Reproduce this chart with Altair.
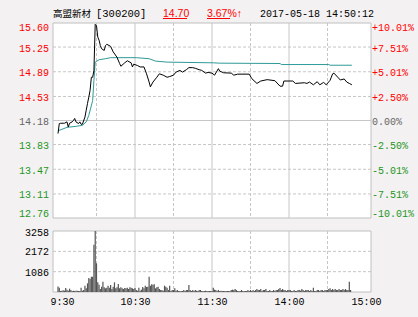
import altair as alt
import pandas as pd

# ---------------- data ----------------
price_min = [0, 1, 2, 4, 5, 7, 8, 9, 11, 12, 13, 14, 16, 17, 18, 19, 21, 22, 23, 24, 25, 26, 27, 28, 29,
             30, 31, 32, 33, 34, 36, 37, 38, 41, 43, 46, 48, 49, 52, 54, 57, 58, 59, 62, 64, 67, 69, 71,
             72, 74, 77, 79, 82, 85, 87, 90, 92, 95, 97, 100, 102, 105, 107, 110, 112, 115, 117, 120, 122,
             125, 126, 129, 135, 137, 140, 149, 151, 155, 158, 163, 169, 173, 175, 176, 183, 185, 192, 194,
             196, 199, 202, 204, 207, 209, 212, 214, 215, 218, 220, 223, 225, 227, 229]
price_val = [13.99, 14.135, 14.14, 14.14, 14.14, 14.16, 14.085, 14.14, 14.16, 14.18, 14.21, 14.16, 14.135,
             14.16, 14.125, 14.125, 14.23, 14.33, 14.43, 14.52, 14.62, 14.81, 14.81, 14.91, 15.58,
             15.56, 15.395, 15.35, 15.27, 15.225, 15.20, 15.27, 15.29, 15.26, 15.18, 15.10, 15.01, 14.97,
             15.02, 15.05, 15.02, 14.96, 15.00, 14.98, 14.96, 14.96, 14.86, 14.74, 14.67, 14.74, 14.81,
             14.86, 14.84, 14.81, 14.82, 14.84, 14.885, 14.91, 14.885, 14.92, 14.95, 14.95, 14.94, 14.92,
             14.91, 14.87, 14.88, 14.87, 14.84, 14.935, 14.90, 14.875, 14.87, 14.84, 14.855, 14.855, 14.79,
             14.72, 14.755, 14.775, 14.76, 14.68, 14.68, 14.755, 14.755, 14.72, 14.73, 14.72, 14.74, 14.70,
             14.745, 14.70, 14.735, 14.70, 14.765, 14.86, 14.87, 14.81, 14.77, 14.785, 14.74, 14.72, 14.70]

avg_min = [0, 7, 14, 19, 22, 24, 27, 28, 29, 32, 37, 41, 61, 71, 76, 85, 121, 126, 173, 174, 211, 212, 229]
avg_val = [14.03, 14.08, 14.095, 14.11, 14.16, 14.255, 14.47, 14.765, 15.03, 15.065, 15.08, 15.095, 15.095,
           15.08, 15.045, 15.03, 15.02, 15.015, 15.01, 14.995, 14.995, 14.985, 14.985]

volume = [300, 231, 53, 71, 89, 71, 214, 125, 71, 178,
          107, 53, 71, 53, 71, 71, 53, 53, 231, 71,
          107, 338, 196, 463, 748, 694, 819, 819, 2528, 3258,
          1531, 516, 392, 160, 285, 552, 249, 196, 231, 338,
          231, 374, 160, 285, 516, 196, 249, 427, 196, 249,
          196, 160, 214, 196, 231, 160, 249, 231, 196, 160,
          214, 107, 71, 231, 71, 125, 267, 196, 338, 267,
          285, 819, 338, 409, 392, 409, 196, 249, 285, 160,
          107, 107, 71, 338, 285, 231, 107, 338, 53, 107,
          107, 196, 71, 107, 53, 53, 53, 53, 107, 53,
          107, 107, 374, 107, 53, 107, 53, 107, 71, 53,
          107, 107, 53, 53, 53, 71, 53, 53, 53, 53,
          53, 231, 125, 107, 53, 107, 53, 71, 53, 53,
          53, 53, 53, 53, 53, 107, 125, 107, 160, 107,
          53, 53, 53, 107, 53, 53, 53, 53, 107, 53,
          107, 53, 107, 53, 107, 160, 107, 107, 160, 53,
          107, 107, 160, 53, 53, 107, 53, 53, 107, 53,
          107, 107, 160, 214, 107, 160, 107, 107, 53, 107,
          107, 107, 53, 53, 107, 53, 53, 107, 107, 71,
          160, 107, 53, 107, 107, 107, 53, 107, 53, 231,
          53, 53, 107, 107, 53, 107, 107, 53, 107, 107,
          107, 160, 196, 107, 160, 107, 160, 107, 107, 160,
          107, 107, 160, 107, 160, 107, 107, 552, 107]

price_ticks = [15.60, 15.25, 14.89, 14.53, 14.18, 13.83, 13.47, 13.11, 12.76]
price_labels = ["15.60", "15.25", "14.89", "14.53", "14.18", "13.83", "13.47", "13.11", "12.76"]
pct_labels = ["+10.01%", "+7.51%", "+5.01%", "+2.50%", "0.00%", "-2.50%", "-5.01%", "-7.51%", "-10.01%"]
prev_close = 14.18
vol_ticks = [3258, 2172, 1086]
vol_labels = ["3258", "2172", "1086"]
time_ticks = [0, 60, 120, 180, 240]
time_labels = ["9:30", "10:30", "11:30", "14:00", "15:00"]
solid_minutes = [60, 120, 180]
dashed_minutes = [30, 90, 150, 210]

# ---------------- layout constants ----------------
W = 318
MAIN_H = 195
VOL_TOP, VOL_BOT = 208, 269
GRID = "#c6c6c6"
RED, GREEN, GRAY = "#ff0000", "#1e961e", "#666666"
MONO = "Liberation Mono"

xs = alt.Scale(domain=[0, 240], nice=False, zero=False)


def ys_main():
    return alt.Scale(domain=[12.76, 15.60], range=[MAIN_H, 0], nice=False, zero=False)


def ys_vol():
    return alt.Scale(domain=[0, 3258], range=[VOL_BOT, VOL_TOP], nice=False, zero=False)


price_df = pd.DataFrame({"m": price_min, "p": price_val})
avg_df = pd.DataFrame({"m": avg_min, "p": avg_val})
vol_df = pd.DataFrame({"m": list(range(len(volume))), "v": volume})
tick_df = pd.DataFrame({"p": price_ticks, "lab": price_labels, "pct": pct_labels})
vtick_df = pd.DataFrame({"v": vol_ticks, "lab": vol_labels})
time_df = pd.DataFrame({"m": time_ticks, "lab": time_labels})
solid_df = pd.DataFrame({"m": solid_minutes})
dashed_df = pd.DataFrame({"m": dashed_minutes})
one = pd.DataFrame({"k": [0]})

layers = []

# panel backgrounds with border
for y0, y1 in [(0, MAIN_H), (VOL_TOP, VOL_BOT)]:
    layers.append(
        alt.Chart(one).mark_rect(fill="white", stroke="#c0c0c0", strokeWidth=1).encode(
            x=alt.value(0), x2=alt.value(W), y=alt.value(y0), y2=alt.value(y1)
        )
    )

# horizontal grid (main)
inner = tick_df[(tick_df.p < 15.6) & (tick_df.p > 12.76) & (tick_df.p != prev_close)]
layers.append(
    alt.Chart(inner).mark_rule(color=GRID, strokeDash=[3, 2], strokeWidth=1).encode(
        y=alt.Y("p:Q", scale=ys_main(), axis=None)
    )
)
layers.append(
    alt.Chart(pd.DataFrame({"p": [prev_close]})).mark_rule(color=GRID, strokeWidth=1).encode(
        y=alt.Y("p:Q", scale=ys_main(), axis=None)
    )
)
# horizontal grid (volume)
layers.append(
    alt.Chart(vtick_df[vtick_df.v < 3258]).mark_rule(color=GRID, strokeDash=[3, 2], strokeWidth=1).encode(
        y=alt.Y("v:Q", scale=ys_vol(), axis=None)
    )
)

# vertical grids for both panels
for y0, y1 in [(0, MAIN_H), (VOL_TOP, VOL_BOT)]:
    layers.append(
        alt.Chart(solid_df).mark_rule(color=GRID, strokeWidth=1).encode(
            x=alt.X("m:Q", scale=xs, axis=None), y=alt.value(y0), y2=alt.value(y1)
        )
    )
    layers.append(
        alt.Chart(dashed_df).mark_rule(color=GRID, strokeDash=[3, 2], strokeWidth=1).encode(
            x=alt.X("m:Q", scale=xs, axis=None), y=alt.value(y0), y2=alt.value(y1)
        )
    )

# volume bars
layers.append(
    alt.Chart(vol_df).mark_bar(color="#555555", size=1.2).encode(
        x=alt.X("m:Q", scale=xs, axis=None),
        y=alt.Y("v:Q", scale=ys_vol(), axis=None),
    )
)

# average and price lines
layers.append(
    alt.Chart(avg_df).mark_line(color="#2f9a98", strokeWidth=1).encode(
        x=alt.X("m:Q", scale=xs, axis=None),
        y=alt.Y("p:Q", scale=ys_main(), axis=None),
    )
)
layers.append(
    alt.Chart(price_df).mark_line(color="#000000", strokeWidth=1).encode(
        x=alt.X("m:Q", scale=xs, axis=None),
        y=alt.Y("p:Q", scale=ys_main(), axis=None),
    )
)

# price / percent labels
color_expr = f"datum.p > {prev_close} ? '{RED}' : (datum.p < {prev_close} ? '{GREEN}' : '{GRAY}')"
for sub, dy in [(tick_df.iloc[[0]], 4.5), (tick_df.iloc[1:-1], 1.5), (tick_df.iloc[[-1]], -4.5)]:
    base = alt.Chart(sub).transform_calculate(col=color_expr)
    layers.append(
        base.mark_text(align="right", baseline="middle", font=MONO, fontSize=10, dy=dy).encode(
            x=alt.value(-4),
            y=alt.Y("p:Q", scale=ys_main(), axis=None),
            text=alt.Text("lab:N"),
            color=alt.Color("col:N", scale=None),
        )
    )
    layers.append(
        base.mark_text(align="left", baseline="middle", font=MONO, fontSize=10, dy=dy).encode(
            x=alt.value(W + 1),
            y=alt.Y("p:Q", scale=ys_main(), axis=None),
            text=alt.Text("pct:N"),
            color=alt.Color("col:N", scale=None),
        )
    )

# volume labels
for sub, dy in [(vtick_df.iloc[[0]], 2), (vtick_df.iloc[1:], 1)]:
    layers.append(
        alt.Chart(sub).mark_text(align="right", baseline="middle", font=MONO, fontSize=10,
                                 dy=dy, color="#000000").encode(
            x=alt.value(-4),
            y=alt.Y("v:Q", scale=ys_vol(), axis=None),
            text=alt.Text("lab:N"),
        )
    )

# time labels
for sub, dx in [(time_df.iloc[[0]], 4.5), (time_df.iloc[1:], 0.5)]:
    layers.append(
        alt.Chart(sub).mark_text(align="center", baseline="middle", font=MONO, fontSize=10,
                                 dx=dx, color="#000000").encode(
            x=alt.X("m:Q", scale=xs, axis=None),
            y=alt.value(279),
            text=alt.Text("lab:N"),
        )
    )

# header texts
header = [
    ("高盟新材", 0, "Noto Sans CJK SC", 9.5, "#000000"),
    ("[300200]", 43, MONO, 10.5, "#000000"),
    ("14.70", 110, "Liberation Sans", 10.5, RED),
    ("3.67%↑", 154, "Liberation Sans", 10.5, RED),
    ("2017-05-18 14:50:12", 207, MONO, 10, "#000000"),
]
for txt, x0, fnt, fs, col in header:
    layers.append(
        alt.Chart(pd.DataFrame({"t": [txt]})).mark_text(
            align="left", baseline="middle", font=fnt, fontSize=fs, color=col
        ).encode(x=alt.value(x0), y=alt.value(-9), text=alt.Text("t:N"))
    )
for x0, x1 in [(110, 134), (154, 177)]:
    layers.append(
        alt.Chart(one).mark_rule(color=RED, strokeWidth=1).encode(
            x=alt.value(x0), x2=alt.value(x1), y=alt.value(-4.5)
        )
    )

chart = (
    alt.layer(*layers)
    .resolve_scale(y="independent")
    .properties(
        width=W,
        height=VOL_BOT,
        autosize=alt.AutoSizeParams(type="none"),
        padding={"left": 53, "top": 23, "right": 47, "bottom": 25},
        background="#f3f1f1",
    )
    .configure_view(stroke=None)
)

chart.save("out.html", embed_options={"renderer": "svg", "actions": False})
